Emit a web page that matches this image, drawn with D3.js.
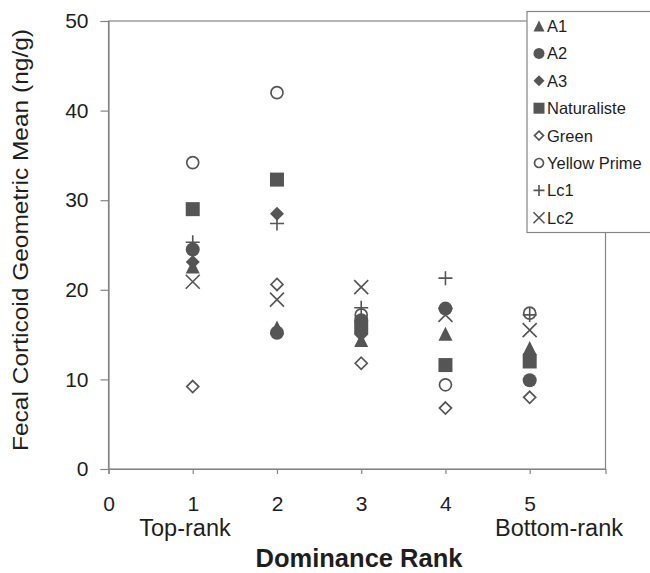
<!DOCTYPE html>
<html><head><meta charset="utf-8">
<script src="https://cdn.jsdelivr.net/npm/d3@7"></script>
<style>body{margin:0;background:#fff}svg{display:block}text{font-family:"Liberation Sans",Arial,sans-serif}</style>
</head><body>
<script>
const ranks = [1, 2, 3, 4, 5];
const seriesNames = ["A1", "A2", "A3", "Naturaliste", "Green", "Yellow Prime", "Lc1", "Lc2"];
const A1 = [22.6, 15.8, 14.4, 15.1, 13.5];
const A2 = [24.5, 15.2, 16.6, 17.9, 9.9];
const A3 = [23.1, 28.5, 15.0, null, 12.8];
const Naturaliste = [29.0, 32.3, 15.8, 11.6, 12.0];
const Green = [9.2, 20.6, 11.8, 6.8, 8.0];
const YellowPrime = [34.2, 42.0, 17.2, 9.4, 17.4];
const Lc1 = [25.3, 27.4, 18.0, 21.3, 17.2];
const Lc2 = [20.9, 18.9, 20.3, 17.2, 15.5];
const xTicks = [0, 1, 2, 3, 4, 5];
const yTicks = [0, 10, 20, 30, 40, 50];
const seriesValues = [A1, A2, A3, Naturaliste, Green, YellowPrime, Lc1, Lc2];
const markerTypes = ["triangle", "circle", "diamond", "square", "diamondOpen", "circleOpen", "plus", "cross"];

const W = 650, H = 573;
const svg = d3.select("body").append("svg").attr("width", W).attr("height", H);
const x = d3.scaleLinear().domain([0, 5.9]).range([108.5, 605.5]);
const y = d3.scaleLinear().domain([0, 50]).range([469, 21]);
const col = "#555";
const axisCol = "#858585";
const txt = "#1e1e1e";

// frame
svg.append("rect").attr("x", x(0)).attr("y", y(50)).attr("width", x(5.9) - x(0)).attr("height", y(0) - y(50))
  .attr("fill", "none").attr("stroke", axisCol).attr("stroke-width", 1.2);

const xAxis = svg.append("g").attr("transform", `translate(0,${y(0)})`)
  .call(d3.axisBottom(x).tickValues(xTicks).tickSize(5).tickPadding(22).tickFormat(d3.format("d")));
const yAxis = svg.append("g").attr("transform", `translate(${x(0)},0)`)
  .call(d3.axisLeft(y).tickValues(yTicks).tickSize(8).tickPadding(12).tickFormat(d3.format("d")));
[xAxis, yAxis].forEach(g => {
  g.select(".domain").attr("stroke", axisCol).attr("stroke-width", 1.2);
  g.selectAll(".tick line").attr("stroke", axisCol).attr("stroke-width", 1.2);
  g.selectAll("text").attr("font-size", 21).attr("fill", txt).style("font-family", '"Liberation Sans",Arial,sans-serif');
});

function marker(g, type, s) {
  const h = s / 2;
  if (type === "triangle") g.append("path").attr("d", `M0,${-h}L${h},${h}L${-h},${h}Z`).attr("fill", col);
  else if (type === "circle") g.append("circle").attr("r", h).attr("fill", col);
  else if (type === "diamond") g.append("path").attr("d", `M0,${-h}L${h},0L0,${h}L${-h},0Z`).attr("fill", col);
  else if (type === "square") g.append("rect").attr("x", -h).attr("y", -h).attr("width", s).attr("height", s).attr("fill", col);
  else if (type === "diamondOpen") g.append("path").attr("d", `M0,${-h+1}L${h-1},0L0,${h-1}L${-h+1},0Z`).attr("fill", "none").attr("stroke", col).attr("stroke-width", 1.7);
  else if (type === "circleOpen") g.append("circle").attr("r", h - 1).attr("fill", "none").attr("stroke", col).attr("stroke-width", 1.7);
  else if (type === "plus") g.append("path").attr("d", `M${-h},0H${h}M0,${-h}V${h}`).attr("stroke", col).attr("stroke-width", 1.6);
  else if (type === "cross") g.append("path").attr("d", `M${-h},${-h}L${h},${h}M${-h},${h}L${h},${-h}`).attr("stroke", col).attr("stroke-width", 1.6);
}

seriesValues.forEach((vals, si) => {
  const gs = svg.append("g");
  vals.forEach((v, i) => {
    if (v == null) return;
    const g = gs.append("g").attr("transform", `translate(${x(ranks[i])},${y(v)})`);
    marker(g, markerTypes[si], 14);
  });
});

// legend
const lg = svg.append("g");
lg.append("rect").attr("x", 527).attr("y", 11.5).attr("width", 140).attr("height", 221)
  .attr("fill", "#fff").attr("stroke", axisCol).attr("stroke-width", 1.2);
seriesNames.forEach((n, i) => {
  const cy = 26 + i * 27.4;
  const g = lg.append("g").attr("transform", `translate(539,${cy})`);
  marker(g, markerTypes[i], 11);
  lg.append("text").attr("x", 547).attr("y", cy + 6).attr("font-size", 16.5).attr("fill", txt).text(n);
});

// axis titles
svg.append("text").attr("x", 185).attr("y", 536).attr("text-anchor", "middle").attr("font-size", 23.5).attr("fill", txt).text("Top-rank");
svg.append("text").attr("x", 559).attr("y", 536).attr("text-anchor", "middle").attr("font-size", 23.5).attr("fill", txt).text("Bottom-rank");
svg.append("text").attr("x", 359).attr("y", 567).attr("text-anchor", "middle").attr("font-size", 25.5).attr("font-weight", "bold").attr("fill", txt).text("Dominance Rank");
svg.append("text").attr("transform", `translate(28,240) rotate(-90)`).attr("text-anchor", "middle").attr("font-size", 22).attr("textLength", 422).attr("lengthAdjust", "spacingAndGlyphs").attr("fill", txt).text("Fecal Corticoid Geometric Mean (ng/g)");
</script>
</body></html>
